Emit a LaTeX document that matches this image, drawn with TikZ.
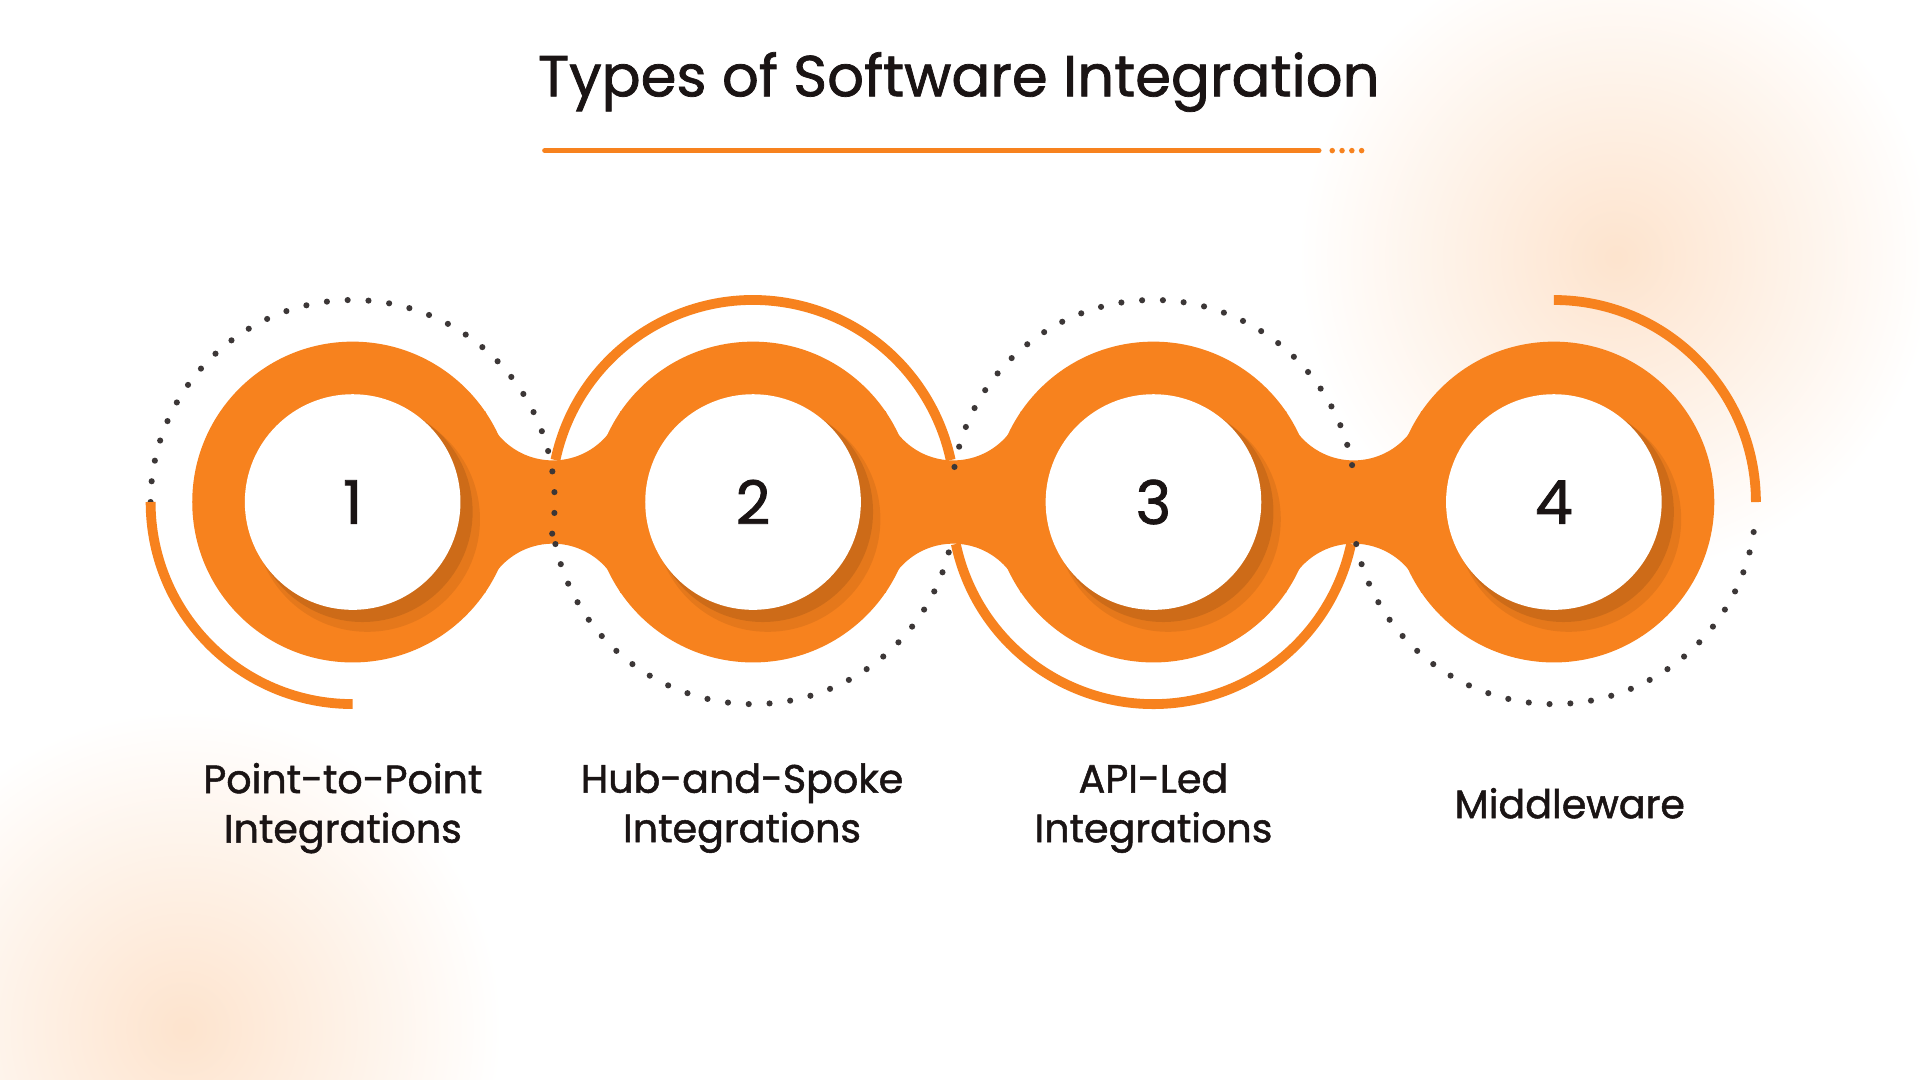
\documentclass[tikz,border=0pt]{standalone}
\usepackage{fontspec}
\setmainfont{Poppins}
\newfontfamily\medf{Poppins}[FakeBold=1.3]
\definecolor{org}{HTML}{F7821E}
\definecolor{txt}{HTML}{1A1414}
\tikzset{
  px/.style={x=0.01cm,y=-0.01cm},
  dots/.style={draw=txt!85,line width=0.05cm,line cap=round,dash pattern=on 0pt off 0.17cm},
  solidarc/.style={draw=org,line width=0.08cm},
  lbl/.style={font=\medf\fontsize{9.2pt}{11.5pt}\selectfont,text=txt,align=center},
  num/.style={font=\medf\fontsize{14pt}{14pt}\selectfont,text=txt},
}
\begin{document}
\begin{tikzpicture}[px]
\useasboundingbox (0,0) rectangle (1568,882);
\fill[white] (0,0) rectangle (1568,882);
\shade[inner color=org!22,outer color=white] (1320,210) circle (260);
\shade[inner color=org!22,outer color=white] (150,840) circle (260);
% title
\node[font=\medf\fontsize{13.4pt}{15pt}\selectfont,text=txt] (title) at (783,67) {Types of Software Integration};
\coordinate (u1) at (445,123); \coordinate (u2) at (1077,123); \coordinate (u3) at (1088,123); \coordinate (u4) at (1120,123);
\draw[org,line width=0.045cm,line cap=round] (u1) -- (u2);
\draw[org,line width=0.045cm,line cap=round,dash pattern=on 0pt off 0.08cm] (u3) -- (u4);
% orange chain
\foreach \x in {451.5,778.5,1105.5} {
  \begin{scope}
    \clip (\x-100,336) rectangle (\x+100,484);
    \fill[org,even odd rule] (\x-110,300) rectangle (\x+110,520) (\x,318) circle (58) (\x,502) circle (58);
  \end{scope}
}
\foreach \x in {288,615,942,1269} \fill[org] (\x,410) circle (131);
% shadows and white discs
\foreach \x/\n [count=\i] in {288/1,615/2,942/3,1269/4} {
  \fill[black,opacity=0.10] (\x+8,418) circle (90);
  \fill[black,opacity=0.07] (\x+12,424) circle (92);
  \node[circle,fill=white,minimum size=1.76cm,inner sep=0pt,num] (c\i) at (\x,410) {\n};
}
% decorations (angles negated: y axis points down)
\draw[dots] (288,410) ++(-180:165) arc[start angle=-180,end angle=12,radius=165];
\draw[solidarc] (288,410) ++(180:165) arc[start angle=180,end angle=90,radius=165];
\draw[solidarc] (615,410) ++(-168:165) arc[start angle=-168,end angle=-12,radius=165];
\draw[dots] (615,410) ++(168:165) arc[start angle=168,end angle=12,radius=165];
\draw[dots] (942,410) ++(-170:165) arc[start angle=-170,end angle=-10,radius=165];
\draw[solidarc] (942,410) ++(168:165) arc[start angle=168,end angle=12,radius=165];
\draw[dots] (1269,410) ++(168:165) arc[start angle=168,end angle=5,radius=165];
\draw[solidarc] (1269,410) ++(-90:165) arc[start angle=-90,end angle=0,radius=165];
% labels
\node[lbl] (l1) at (280,660) {Point-to-Point\\Integrations};
\node[lbl] (l2) at (606,660) {Hub-and-Spoke\\Integrations};
\node[lbl] (l3) at (942,660) {API-Led\\Integrations};
\node[lbl] (l4) at (1282,656) {Middleware};
\end{tikzpicture}
\end{document}
